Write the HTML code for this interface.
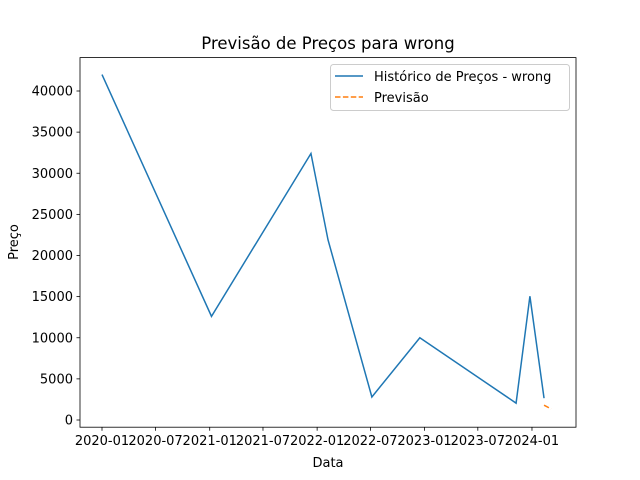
<!DOCTYPE html>
<html><head><meta charset="utf-8"><style>
body{margin:0;background:#fff;}
svg{display:block;font-family:"DejaVu Sans","Liberation Sans",sans-serif;}
</style></head><body>
<svg id="chart" width="640" height="480"></svg>
<script>
const histDates=["2020-01-01","2021-01-07","2021-12-11","2022-02-07","2022-07-06","2022-12-16","2023-11-08","2023-12-25","2024-02-11"];
const histValues=[42000,12600,32400,21900,2800,10000,2050,15050,2650];
const fcDates=["2024-02-11","2024-03-06"];
const fcValues=[1800,1350];
const xTickLabels=["2020-01","2020-07","2021-01","2021-07","2022-01","2022-07","2023-01","2023-07","2024-01"];
const yTicks=[0,5000,10000,15000,20000,25000,30000,35000,40000];

const NS="http://www.w3.org/2000/svg";
const svg=document.getElementById('chart');
const L=80,R=576,T=57.6,B=427.2;
const d0=Date.UTC(2020,0,1), dayMs=86400000, pxPerDay=0.2943;
function x(s){const t=Date.parse(s+"T00:00:00Z");return 102+(t-d0)/dayMs*pxPerDay;}
function y(v){return 420-v*0.008225;}
function el(tag,attrs,parent){const e=document.createElementNS(NS,tag);for(const k in attrs)e.setAttribute(k,attrs[k]);(parent||svg).appendChild(e);return e;}

const title=el('text',{x:328,y:49,'text-anchor':'middle','font-size':16.5,fill:'#000'});


title.textContent="Previsão de Preços para wrong";

const yt=el('g',{});


yTicks.forEach(v=>{
  el('line',{x1:L-3.5,x2:L,y1:y(v),y2:y(v),stroke:'#000','stroke-width':0.8},yt);
  const t=el('text',{x:L-7,y:y(v)+4.5,'text-anchor':'end','font-size':13,fill:'#000'},yt);
  t.textContent=String(v);
});
const xt=el('g',{});


xTickLabels.forEach(s=>{
  const px=x(s+"-01");
  el('line',{x1:px,x2:px,y1:B,y2:B+3.5,stroke:'#000','stroke-width':0.8},xt);
  const t=el('text',{x:px,y:B+18,'text-anchor':'middle','font-size':13,fill:'#000'},xt);
  t.textContent=s;
});
const xl=el('text',{x:328,y:467,'text-anchor':'middle','font-size':13,fill:'#000'});


xl.textContent="Data";
const yl=el('text',{x:18,y:242,'text-anchor':'middle','font-size':13,fill:'#000',transform:'rotate(-90 18 242)'});


yl.textContent="Preço";

const hist=el('polyline',{points:histDates.map((d,i)=>x(d)+","+y(histValues[i])).join(" "),fill:'none',stroke:'#1f77b4','stroke-width':1.5});


const fc=el('polyline',{points:fcDates.map((d,i)=>x(d)+","+y(fcValues[i])).join(" "),fill:'none',stroke:'#ff7f0e','stroke-width':1.5,'stroke-dasharray':'5.5,2.4'});



const frame=el('rect',{x:L,y:T,width:R-L,height:B-T,fill:'none',stroke:'#000','stroke-width':0.8});



const lg=el('g',{});


el('rect',{x:330.5,y:64.5,width:239,height:46,rx:3,fill:'#fff','fill-opacity':0.8,stroke:'#ccc'},lg);
el('line',{x1:335,x2:363,y1:76,y2:76,stroke:'#1f77b4','stroke-width':1.5},lg);
const l1=el('text',{x:374,y:81,'font-size':13,fill:'#000'},lg);


l1.textContent="Histórico de Preços - wrong";
el('line',{x1:335,x2:363,y1:97,y2:97,stroke:'#ff7f0e','stroke-width':1.5,'stroke-dasharray':'5.5,2.4'},lg);
const l2=el('text',{x:374,y:102,'font-size':13,fill:'#000'},lg);


l2.textContent="Previsão";
</script>
</body></html>
